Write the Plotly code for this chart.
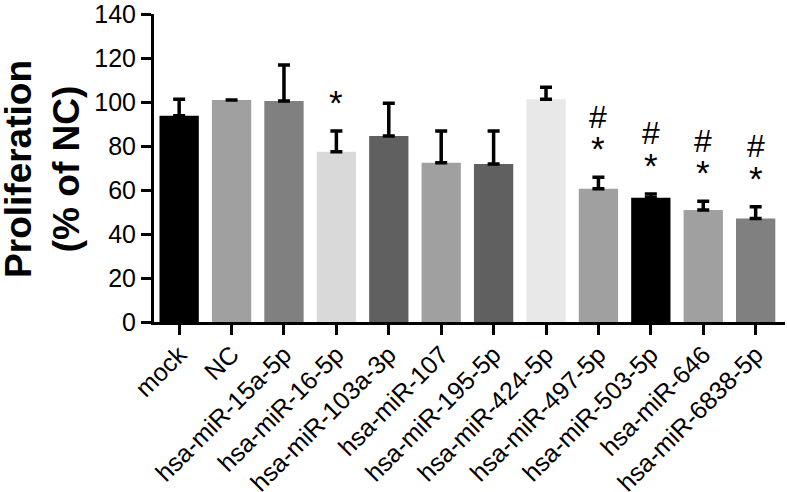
import plotly.graph_objects as go

categories = ["mock", "NC", "hsa-miR-15a-5p", "hsa-miR-16-5p", "hsa-miR-103a-3p",
              "hsa-miR-107", "hsa-miR-195-5p", "hsa-miR-424-5p", "hsa-miR-497-5p",
              "hsa-miR-503-5p", "hsa-miR-646", "hsa-miR-6838-5p"]
means = [93.8, 100.9, 100.5, 77.4, 84.5, 72.4, 71.8, 101.2, 60.6, 56.5, 50.9, 47.1]
errors = [7.4, 0.0, 16.3, 9.4, 14.9, 14.4, 15.0, 5.5, 5.2, 1.7, 4.0, 5.3]
star_marks = ["", "", "", "*", "", "", "", "", "*", "*", "*", "*"]
hash_marks = ["", "", "", "", "", "", "", "", "#", "#", "#", "#"]
bar_colors = ["#000000", "#a0a0a0", "#808080", "#d9d9d9", "#606060", "#a0a0a0",
              "#606060", "#e8e8e8", "#a0a0a0", "#000000", "#a0a0a0", "#808080"]
y_ticks = [0, 20, 40, 60, 80, 100, 120, 140]

FONT = "Liberation Sans, Arial, sans-serif"

fig = go.Figure()
fig.add_trace(go.Bar(
    x=list(range(len(categories))), y=means,
    marker=dict(color=bar_colors, line=dict(width=0)),
    width=0.75,
    error_y=dict(type="data", symmetric=False, array=errors,
                 arrayminus=[0] * len(errors),
                 color="#000000", thickness=3.5, width=6),
    showlegend=False,
    hoverinfo="skip",
))

annotations = []
for i, (m, e, s, h) in enumerate(zip(means, errors, star_marks, hash_marks)):
    top = m + e
    if s:
        annotations.append(dict(x=i, y=top + 13, xref="x", yref="y", text=s,
                                showarrow=False, yanchor="middle",
                                font=dict(family=FONT, size=35, color="#000000")))
    if h:
        annotations.append(dict(x=i, y=top + 27.5, xref="x", yref="y", text=h,
                                showarrow=False, yanchor="middle",
                                font=dict(family=FONT, size=32, color="#000000")))

annotations.append(dict(
    x=0, y=0.497, xref="paper", yref="paper", xshift=-111,
    text="<b>Proliferation</b><br><b>(% of NC)</b>", textangle=-90,
    showarrow=False, xanchor="center", yanchor="middle",
    font=dict(family=FONT, size=37, color="#000000")))

fig.update_layout(
    width=787, height=492,
    margin=dict(l=154, r=2, t=14, b=170, autoexpand=False),
    paper_bgcolor="white", plot_bgcolor="white",
    font=dict(family=FONT, color="#000000"),
    annotations=annotations,
    bargap=0.25,
)
fig.update_xaxes(
    range=[-0.48, 11.56], automargin=False,
    tickmode="array", tickvals=list(range(len(categories))), ticktext=categories,
    tickangle=-45, tickfont=dict(family=FONT, size=25, color="#000000"),
    ticklabeloverflow="allow", ticklabelstandoff=-5,
    showline=True, linecolor="#000000", linewidth=3,
    ticks="outside", ticklen=10, tickwidth=3, tickcolor="#000000",
    showgrid=False, zeroline=False,
)
fig.update_yaxes(
    range=[0, 140], automargin=False,
    tickmode="array", tickvals=y_ticks,
    tickfont=dict(family=FONT, size=25, color="#000000"),
    ticklabeloverflow="allow",
    showline=True, linecolor="#000000", linewidth=3,
    ticks="outside", ticklen=10, tickwidth=3, tickcolor="#000000",
    showgrid=False, zeroline=False,
)

fig.write_html("out.html", config={"displayModeBar": False},
               post_script="document.body.style.margin='0';")
